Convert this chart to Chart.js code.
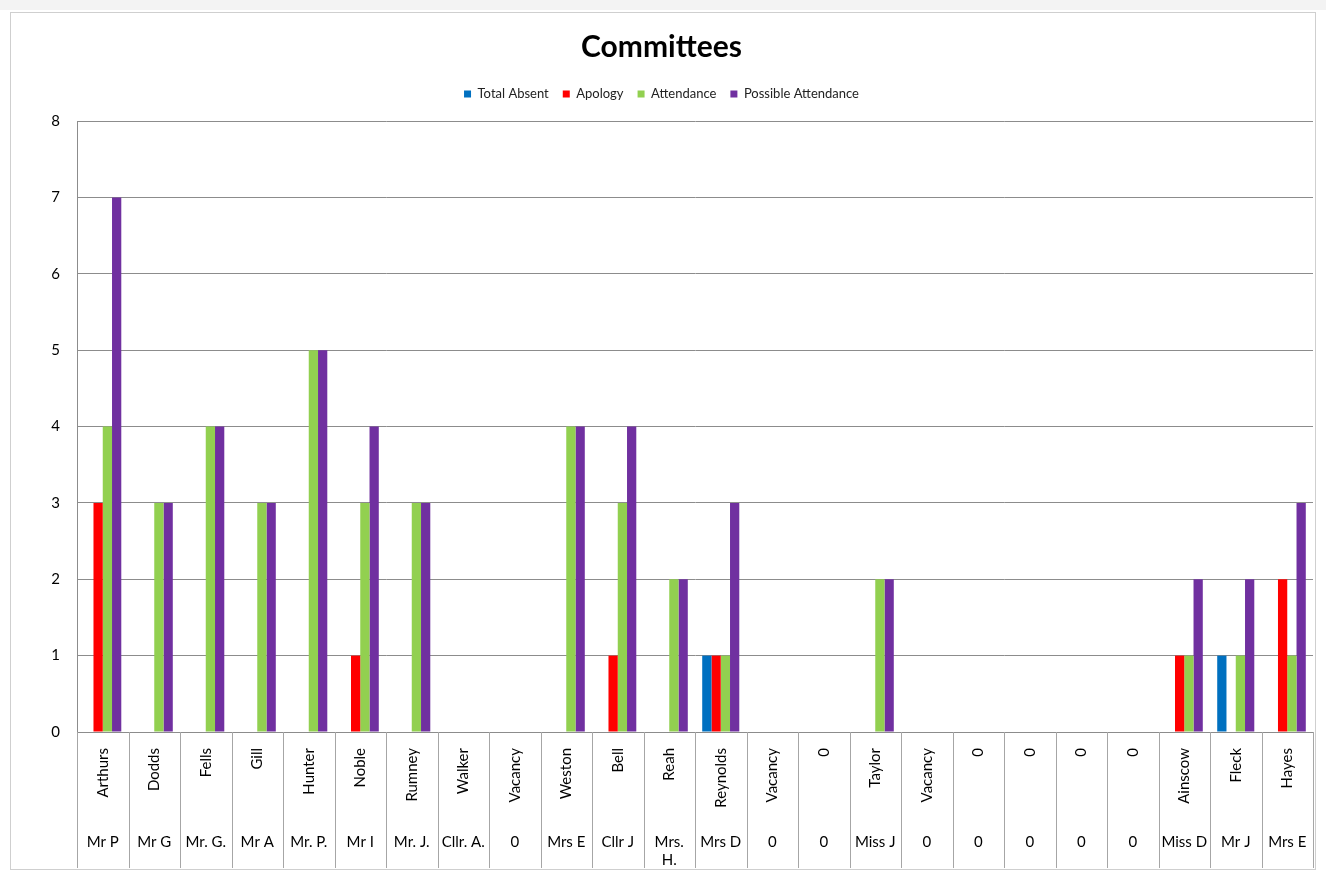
<!DOCTYPE html>
<html>
<head>
<meta charset="utf-8">
<script src="https://cdn.jsdelivr.net/npm/chart.js@4.4.1/dist/chart.umd.min.js"></script>
<style>
html,body{margin:0;padding:0;background:#fff;}
#top{position:absolute;left:0;top:0;width:1326px;height:10px;background:#f3f3f3;}
#frame{position:absolute;left:10px;top:12px;width:1306px;height:858px;border:1px solid #cfcfcf;box-sizing:border-box;}
#wrap{position:absolute;left:0;top:0;width:1326px;height:874px;}
</style>
</head>
<body>
<div id="top"></div>
<div id="frame"></div>
<div id="wrap"><canvas id="c" width="1326" height="874"></canvas></div>
<script>
const names = ["Arthurs","Dodds","Fells","Gill","Hunter","Noble","Rumney","Walker","Vacancy","Weston","Bell","Reah","Reynolds","Vacancy","0","Taylor","Vacancy","0","0","0","0","Ainscow","Fleck","Hayes"];
const titles = ["Mr P","Mr G","Mr. G.","Mr A","Mr. P.","Mr I","Mr. J.","Cllr. A.","0","Mrs E","Cllr J",["Mrs.","H."],"Mrs D","0","0","Miss J","0","0","0","0","0","Miss D","Mr J","Mrs E"];
const totalAbsent = [0,0,0,0,0,0,0,0,0,0,0,0,1,0,0,0,0,0,0,0,0,0,1,0];
const apology = [3,0,0,0,0,1,0,0,0,0,1,0,1,0,0,0,0,0,0,0,0,1,0,2];
const attendance = [4,3,4,3,5,3,3,0,0,4,3,2,1,0,0,2,0,0,0,0,0,1,1,1];
const possibleAttendance = [7,3,4,3,5,4,3,0,0,4,4,2,3,0,0,2,0,0,0,0,0,2,2,3];
const yTicks = [0,1,2,3,4,5,6,7,8];

const FONT = "Lato, 'Open Sans', sans-serif";

const separators = {
  id: 'separators',
  afterDraw(chart) {
    const x = chart.scales.x, x2 = chart.scales.x2;
    const ctx = chart.ctx;
    ctx.save();
    ctx.strokeStyle = '#a6a6a6';
    ctx.lineWidth = 1;
    for (let i = 0; i <= names.length; i++) {
      const px = Math.round(x.getPixelForValue(i - 0.5)) + 0.5;
      ctx.beginPath();
      ctx.moveTo(px, x.top);
      ctx.lineTo(px, x2.bottom);
      ctx.stroke();
    }
    ctx.restore();
  }
};

const mk = (label, data, color) => ({label, data, backgroundColor: color, borderWidth: 0, categoryPercentage: 0.72, barPercentage: 1.0});

new Chart(document.getElementById('c'), {
  type: 'bar',
  data: {
    labels: names,
    datasets: [
      mk('Total Absent', totalAbsent, '#0070C0'),
      mk('Apology', apology, '#FF0000'),
      mk('Attendance', attendance, '#92D050'),
      mk('Possible Attendance', possibleAttendance, '#7030A0')
    ]
  },
  options: {
    responsive: false,
    animation: false,
    layout: {padding: {left: 10, right: 13, top: 12, bottom: 6}},
    plugins: {
      title: {display: true, text: 'Committees', color: '#000', font: {family: FONT, size: 30, weight: 'bold', lineHeight: 1.2}, padding: {top: 17, bottom: 8.5}},
      subtitle: {display: true, text: '', weight: 500, padding: 0, font: {size: 10.5, lineHeight: 1}},
      legend: {labels: {color: '#222', font: {family: FONT, size: 13}, boxWidth: 7, boxHeight: 7, padding: 14}},
      tooltip: {enabled: false}
    },
    scales: {
      x: {
        type: 'category', labels: names, offset: true, weight: 0,
        grid: {display: false, drawOnChartArea: false},
        border: {display: false},
        ticks: {color: '#000', font: {family: FONT, size: 15}, minRotation: 90, maxRotation: 90, padding: 8, autoSkip: false},
        afterFit(s) { s.height = 80; }
      },
      x2: {
        type: 'category', labels: titles, offset: true, position: 'bottom', weight: 1,
        grid: {display: false, drawOnChartArea: false},
        border: {display: false},
        ticks: {color: '#000', font: {family: FONT, size: 15}, maxRotation: 0, minRotation: 0, padding: 13, autoSkip: false},
        afterFit(s) { s.height = 56; }
      },
      y: {
        min: 0, max: 8,
        afterBuildTicks(s) { s.ticks = yTicks.map(v => ({value: v})); },
        grid: {color: '#8c8c8c', drawTicks: false},
        border: {display: true, color: '#8c8c8c'},
        ticks: {color: '#000', font: {family: FONT, size: 15}, padding: 17},
        afterFit(s) { s.width = 67; }
      }
    }
  },
  plugins: [separators]
});
</script>
</body>
</html>
